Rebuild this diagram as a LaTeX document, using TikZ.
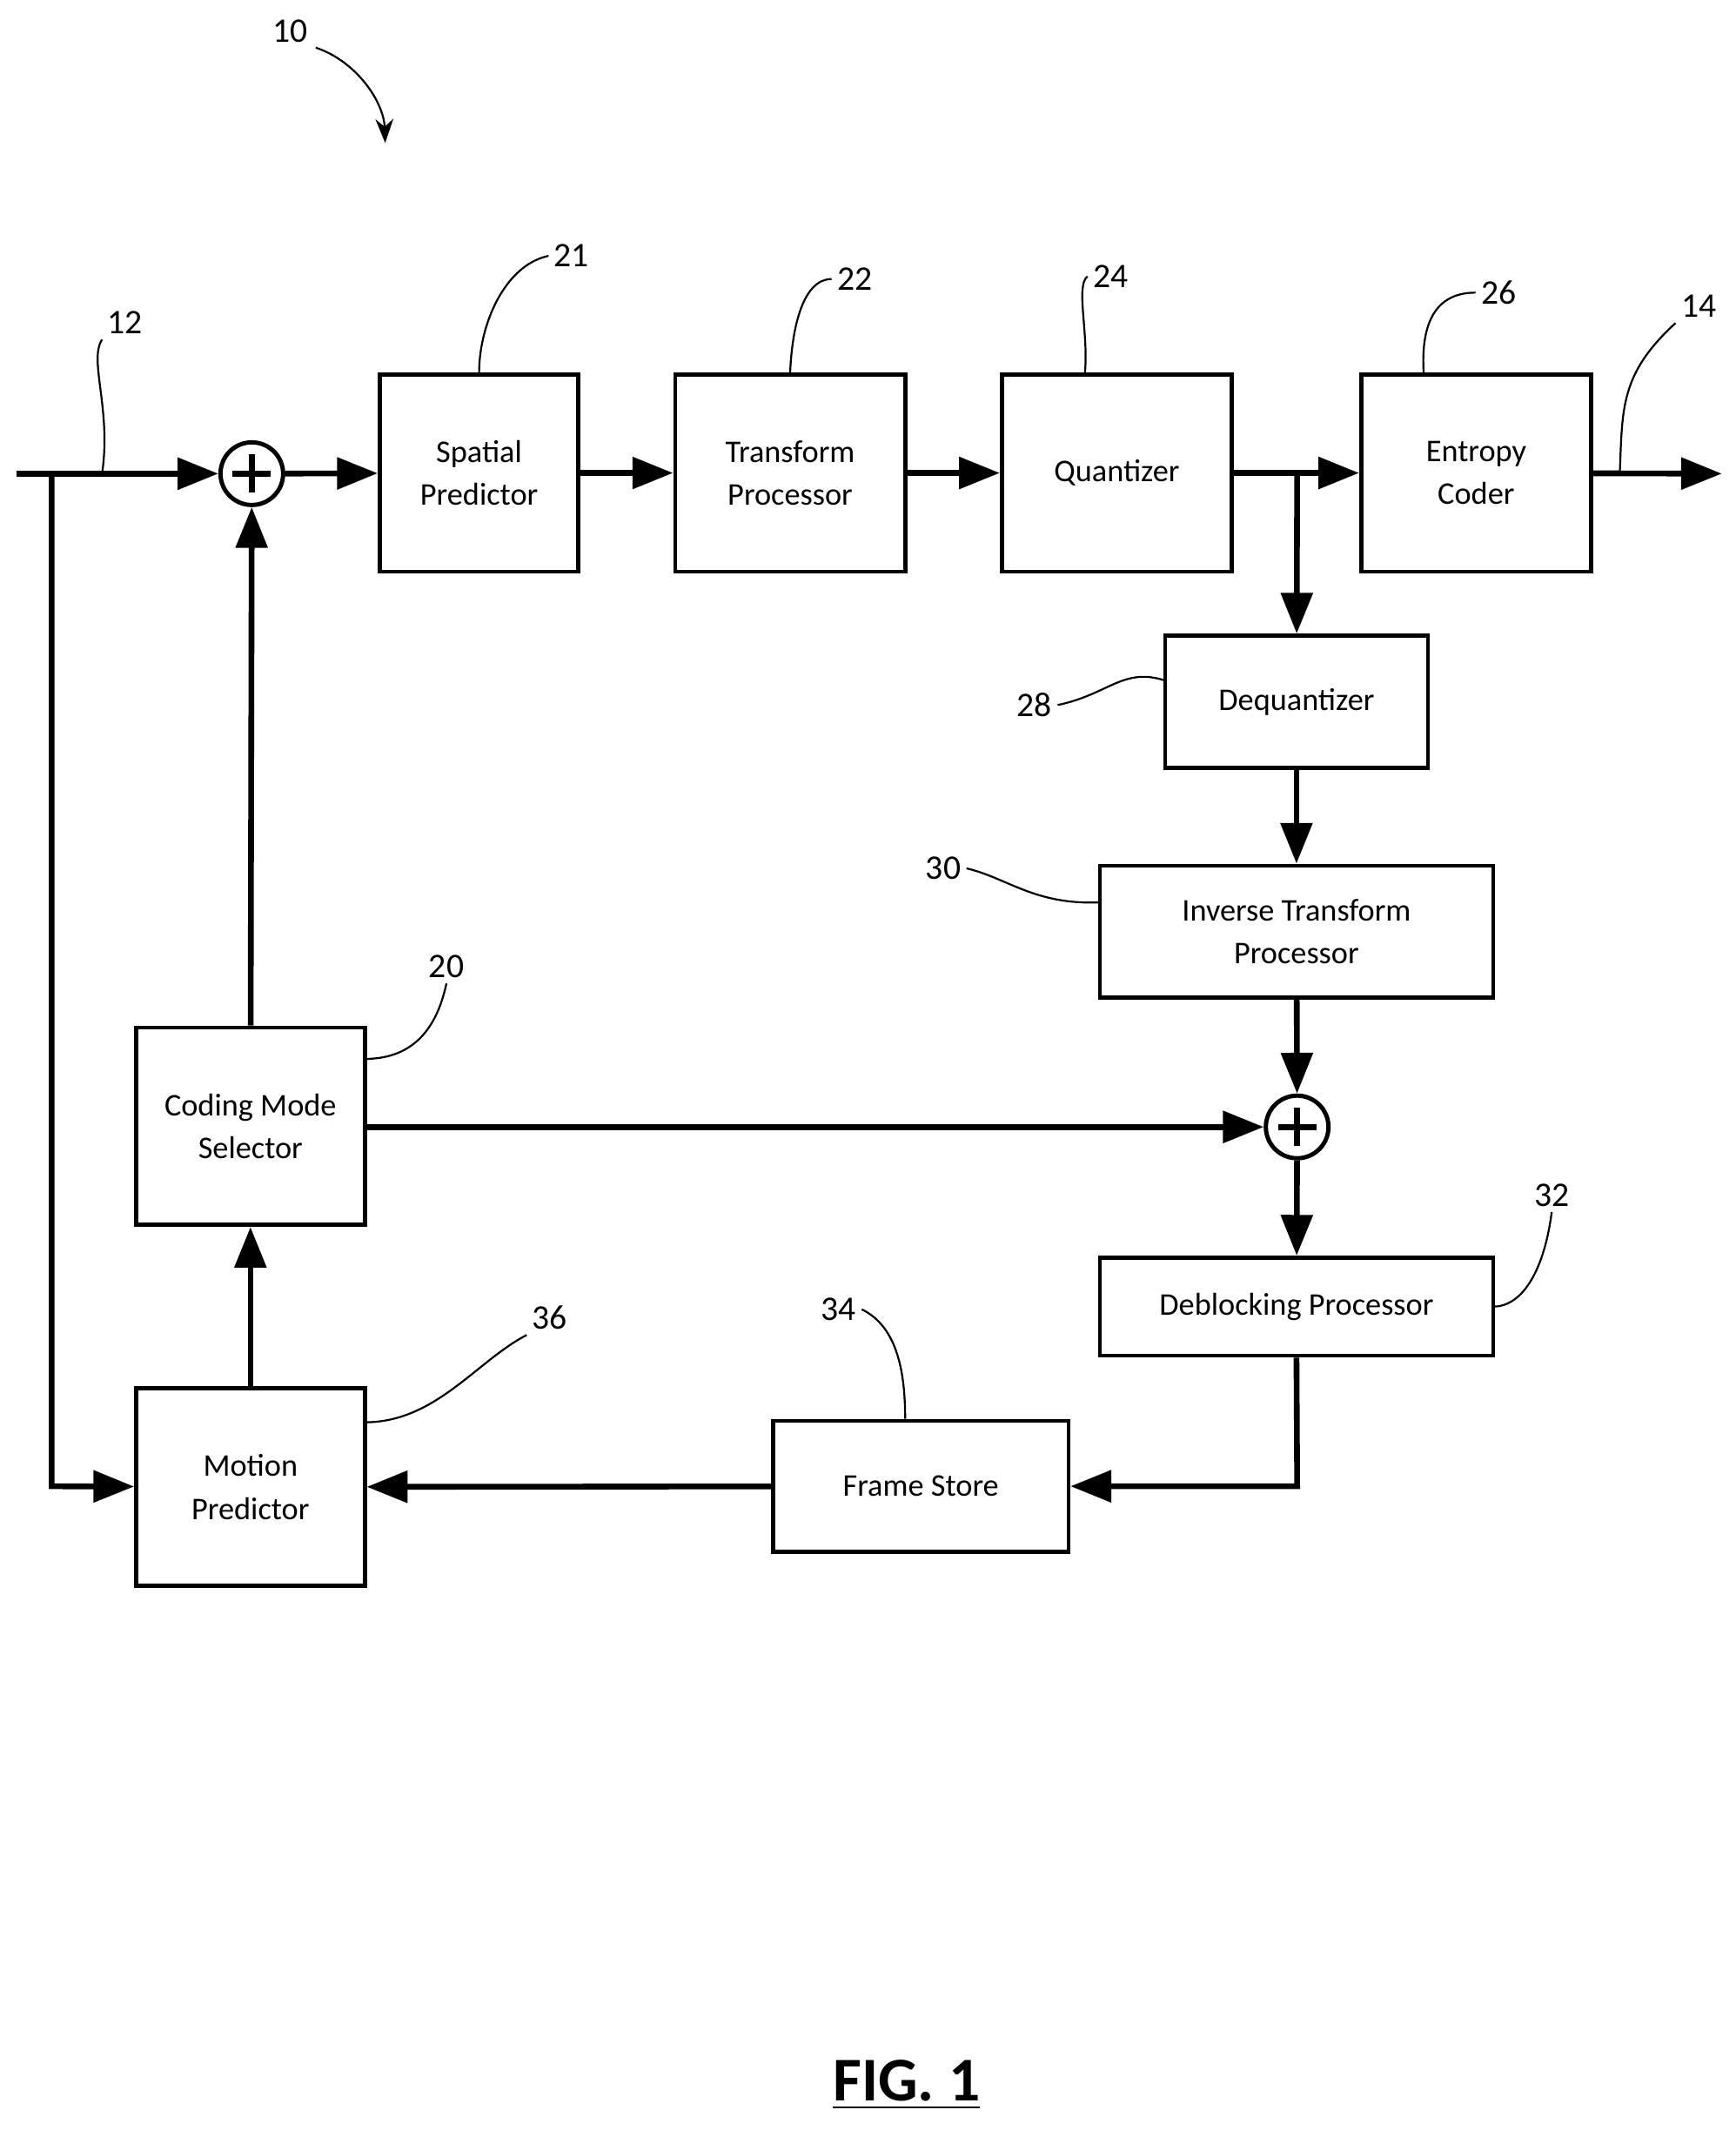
\documentclass[tikz,border=0pt]{standalone}
\usepackage{fontspec}
\setmainfont{Carlito}
\usetikzlibrary{arrows.meta,calc}
\begin{document}
\begin{tikzpicture}[x=0.01cm,y=-0.01cm,
 box/.style={draw,line width=0.85pt,align=center,font=\fontsize{6.6pt}{9pt}\selectfont,inner sep=0pt},
 flow/.style={line width=1.2pt,-{Triangle[length=8.5pt,width=6.5pt]}},
 lead/.style={line width=0.4pt},
 lbl/.style={font=\fontsize{7.2pt}{9pt}\selectfont,inner sep=1pt},
 sum/.style={draw,circle,line width=0.9pt,minimum size=0.46cm,inner sep=0pt,
   path picture={\draw[line width=1.2pt] ($(path picture bounding box.center)+(-0.14cm,0)$)--($(path picture bounding box.center)+(0.14cm,0)$) ($(path picture bounding box.center)+(0,-0.14cm)$)--($(path picture bounding box.center)+(0,0.14cm)$);}}]
\useasboundingbox (0,0) rectangle (1275,1565);
\newcommand{\bx}[6]{\node[box,minimum width=#4*0.01cm,minimum height=#5*0.01cm] (#1) at (#2,#3) {#6};}
\bx{sp}{352}{347.5}{146}{145}{Spatial\\Predictor}
\bx{tp}{580.5}{347.5}{169}{145}{Transform\\Processor}
\bx{qz}{820.5}{347.5}{169}{145}{Quantizer}
\bx{ec}{1084.5}{347.5}{169}{145}{Entropy\\Coder}
\bx{dq}{952.5}{515.5}{193}{97}{Dequantizer}
\bx{it}{952.5}{684.5}{289}{97}{Inverse Transform\\Processor}
\bx{db}{952.5}{960}{289}{72}{Deblocking Processor}
\bx{fs}{676.5}{1092}{217}{96}{Frame Store}
\bx{mp}{184}{1092.5}{168}{145}{Motion\\Predictor}
\bx{cm}{184}{827.5}{168}{145}{Coding Mode\\Selector}
\node[sum] (s1) at (185,348) {};
\node[sum] (s2) at (953,828) {};
\coordinate (in) at (12,348);
\coordinate (br) at (38,348);
\coordinate (out) at (1265,348);
\coordinate (qb) at (953,348);
\coordinate (dc) at (953,1092);
\coordinate (lc) at (38,1092);
\draw[flow] (in) -- (s1);
\draw[flow] (s1) -- (sp);
\draw[flow] (sp) -- (tp);
\draw[flow] (tp) -- (qz);
\draw[flow] (qz) -- (ec);
\draw[flow] (ec) -- (out);
\draw[flow] (qb) -- (dq);
\draw[flow] (dq) -- (it);
\draw[flow] (it) -- (s2);
\draw[flow] (s2) -- (db);
\draw[flow] (db.south) -- (dc) -- (fs);
\draw[flow] (fs) -- (mp);
\draw[flow] (br) -- (lc) -- (mp);
\draw[flow] (mp) -- (cm);
\draw[flow] (cm) -- (s1);
\draw[flow] (cm.east|-s2) -- (s2);
% labels
\node[lbl] (l10) at (213,23) {10};
\coordinate (a10) at (283,105);
\draw[lead,-{Stealth[length=5pt]}] (232,35) .. controls (262,45) and (282,75) .. (a10);
\node[lbl] (l12) at (92,237) {12};
\draw[lead] (l12.south west) .. controls (65,265) and (82,300) .. (75,348);
\node[lbl] (l21) at (420,188) {21};
\draw[lead] (l21.west) .. controls (370,195) and (352,240) .. (sp.north);
\node[lbl] (l22) at (628,205) {22};
\draw[lead] (l22.west) .. controls (590,205) and (582,240) .. (tp.north);
\node[lbl] (l24) at (816,203) {24};
\draw[lead] (l24.west) .. controls (790,210) and (800,245) .. (797,275);
\node[lbl] (l26) at (1101,215) {26};
\draw[lead] (l26.west) .. controls (1050,215) and (1044,245) .. (1046,275);
\node[lbl] (l14) at (1248,225) {14};
\draw[lead] (l14.south west) .. controls (1190,275) and (1192,300) .. (1190,348);
\node[lbl] (l28) at (760,518) {28};
\draw[lead] (l28.east) .. controls (815,510) and (825,490) .. (856,500);
\node[lbl] (l30) at (693,638) {30};
\draw[lead] (l30.east) .. controls (740,645) and (760,665) .. (808,663);
\node[lbl] (l20) at (328,710) {20};
\draw[lead] (l20.south) .. controls (320,760) and (300,778) .. (268,778);
\node[lbl] (l32) at (1140,878) {32};
\draw[lead] (l32.south) .. controls (1135,930) and (1120,960) .. (1097,960);
\node[lbl] (l34) at (616,962) {34};
\draw[lead] (l34.east) .. controls (660,975) and (665,1010) .. (fs.north-|665,0);
\node[lbl] (l36) at (404,968) {36};
\draw[lead] (l36.south west) .. controls (350,1000) and (320,1045) .. (268,1045);
\node[font=\bfseries\fontsize{13pt}{15pt}\selectfont] (fig) at (666,1532) {\underline{FIG. 1}};
\end{tikzpicture}
\end{document}
